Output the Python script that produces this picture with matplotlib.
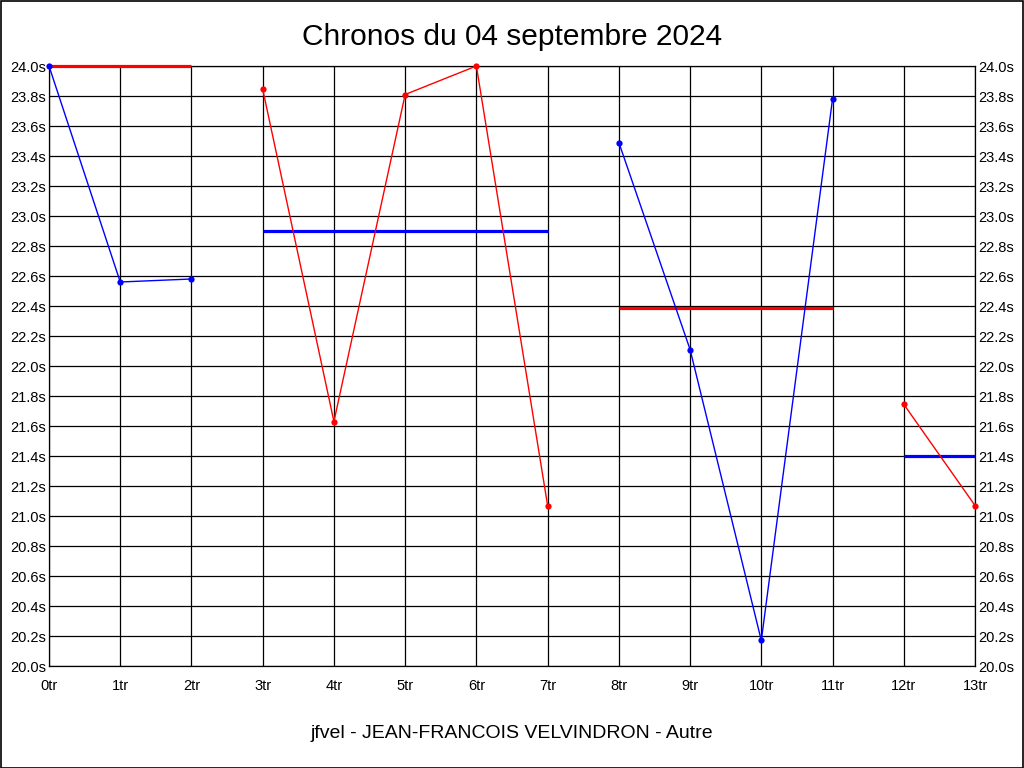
import matplotlib
matplotlib.use("Agg")
import matplotlib.pyplot as plt
from matplotlib.patches import Rectangle

plt.rcParams['font.family'] = ['Liberation Sans', 'DejaVu Sans']

title = "Chronos du 04 septembre 2024"
footer = "jfvel - JEAN-FRANCOIS VELVINDRON - Autre"
x_labels = [f"{i}tr" for i in range(14)]
y_ticks = [20.0 + 0.2 * i for i in range(21)]

# groups of laps: (x positions, times, color of line, average value, average color)
g1_x = [0, 1, 2]
g1_y = [24.0, 22.56, 22.58]
g1_avg = 24.0
g2_x = [3, 4, 5, 6, 7]
g2_y = [23.845, 21.63, 23.81, 24.0, 21.07]
g2_avg = 22.90
g3_x = [8, 9, 10, 11]
g3_y = [23.49, 22.11, 20.17, 23.78]
g3_avg = 22.39
g4_x = [12, 13]
g4_y = [21.745, 21.07]
g4_avg = 21.40

groups = [
    (g1_x, g1_y, "#0000ff", g1_avg, "#ff0000"),
    (g2_x, g2_y, "#ff0000", g2_avg, "#0000ff"),
    (g3_x, g3_y, "#0000ff", g3_avg, "#ff0000"),
    (g4_x, g4_y, "#ff0000", g4_avg, "#0000ff"),
]

fig = plt.figure(figsize=(10.24, 7.68), dpi=100)
fig.patch.set_facecolor("white")
ax = fig.add_axes([49 / 1024, 1 - 666 / 768, (975 - 49) / 1024, 600 / 768])
ax.set_xlim(0, 13)
ax.set_ylim(20.0, 24.0)
ax.set_xticks(range(14))
ax.set_xticklabels(x_labels)
ax.set_yticks(y_ticks)
ax.set_yticklabels([f"{v:.1f}s" for v in y_ticks])
ax.grid(True, color="black", linewidth=0.9)
ax.set_axisbelow(True)
ax.tick_params(axis="x", length=0, labelsize=10.5, pad=9)
ax.tick_params(axis="y", length=0, labelsize=10.5, pad=2, right=True, labelright=True)
for s in ax.spines.values():
    s.set_color("black")
    s.set_linewidth(0.9)

for xs, ys, c, avg, ac in groups:
    ax.plot([xs[0], xs[-1]], [avg, avg], color=ac, linewidth=2.3, solid_capstyle="butt",
            zorder=3, clip_on=False)
    ax.plot(xs, ys, color=c, linewidth=1.0, marker="o", markersize=4.5,
            markeredgewidth=0, zorder=4, clip_on=False)

fig.text(0.5, 1 - 37 / 768, title, ha="center", va="center", fontsize=21.5)
fig.text(0.5, 1 - 734 / 768, footer, ha="center", va="center", fontsize=14)
fig.patches.append(Rectangle((0.5 / 1024, 0.5 / 768), 1 - 1.5 / 1024, 1 - 1.5 / 768,
                             transform=fig.transFigure, fill=False, edgecolor="black",
                             linewidth=1.2))

fig.savefig("out.png", dpi=100)
